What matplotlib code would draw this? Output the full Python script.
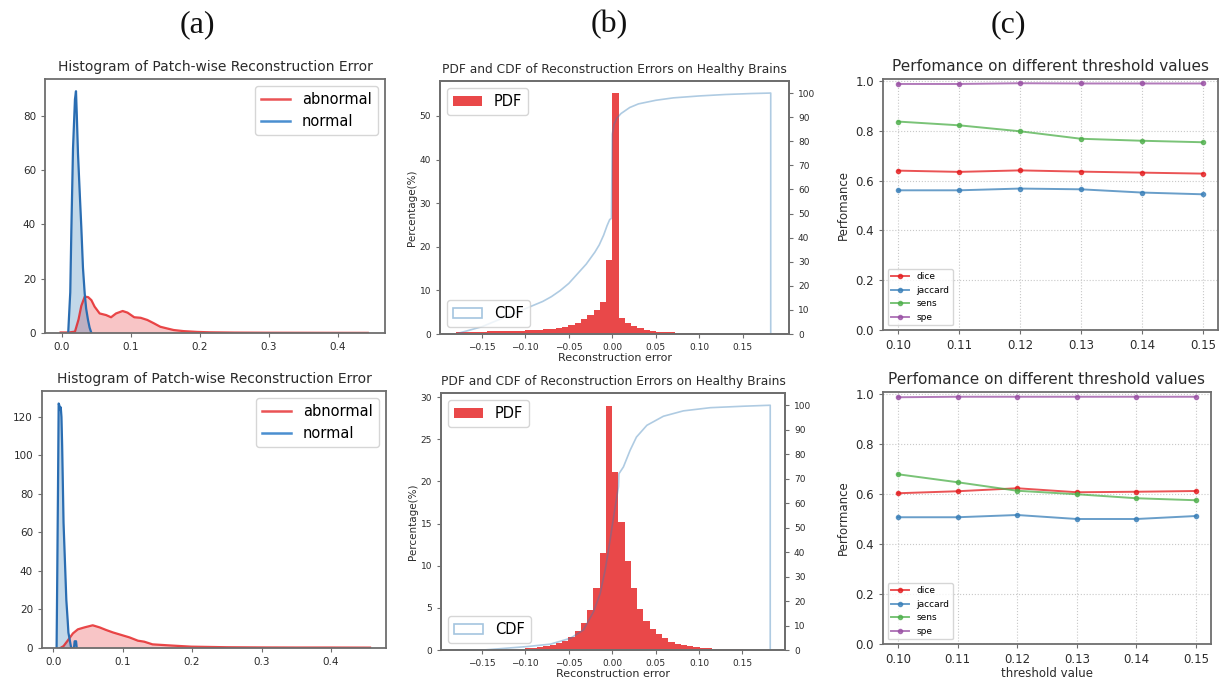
import numpy as np
import matplotlib
matplotlib.use("Agg")
import matplotlib.pyplot as plt
from matplotlib.patches import Patch
from matplotlib.lines import Line2D

# ---- (a) patch-wise reconstruction error histograms (density) ----
a1_err_normal = [0.009, 0.012, 0.0136, 0.016, 0.0188, 0.0203, 0.0215, 0.0232, 0.026,
                 0.028, 0.0304, 0.0329, 0.035, 0.0377, 0.040, 0.0426]
a1_dens_normal = [0, 15, 38, 68, 86, 89, 80, 66, 50, 39, 24, 14.6, 9, 4.8, 2, 0]
a1_err_abnormal = [-0.002, 0.01, 0.0188, 0.024, 0.028, 0.033, 0.038, 0.0426, 0.0473,
                   0.0546, 0.064, 0.0711, 0.0783, 0.0879, 0.095, 0.1047, 0.114, 0.1237,
                   0.133, 0.1425, 0.152, 0.1618, 0.176, 0.196, 0.215, 0.25, 0.3, 0.35,
                   0.4, 0.443]
a1_dens_abnormal = [0.2, 0.2, 0.5, 5, 10, 13.4, 13.2, 12.1, 9.7, 7.2, 6.6, 5.8, 7.2, 8.1,
                    7.5, 5.8, 5.6, 4.8, 3.6, 2.3, 1.7, 1.1, 0.7, 0.4, 0.25, 0.15, 0.1,
                    0.08, 0.06, 0.05]

a2_err_normal = [0.005, 0.006, 0.007, 0.008, 0.009, 0.010, 0.011, 0.012, 0.013, 0.014,
                 0.015, 0.017, 0.018, 0.019, 0.021, 0.022, 0.024, 0.026, 0.030, 0.031,
                 0.033, 0.034]
a2_dens_normal = [0, 40, 82, 127, 126, 124, 125, 120, 105, 85, 65, 45, 35, 25, 14, 8, 4,
                  0, 0, 3.5, 3.5, 0]
a2_err_abnormal = [0.0105, 0.015, 0.0213, 0.0285, 0.0356, 0.045, 0.057, 0.067, 0.076,
                   0.086, 0.098, 0.110, 0.122, 0.131, 0.143, 0.165, 0.184, 0.199, 0.25,
                   0.3, 0.35, 0.4, 0.456]
a2_dens_abnormal = [0, 1, 4, 7.6, 9.7, 10.7, 11.8, 10.7, 9.4, 8.1, 6.8, 5.5, 3.8, 3.3,
                    1.9, 1.4, 1.0, 0.7, 0.4, 0.3, 0.25, 0.25, 0.2]

# ---- (b) PDF (percentage per bin, 50 bins on [-0.18, 0.18]) and CDF ----
b1_pdf = [0.4, 0.45, 0.5, 0.5, 0.55, 0.6, 0.6, 0.65, 0.7, 0.75, 0.8, 0.9, 0.95, 1.0,
          1.1, 1.2, 1.4, 1.7, 2.1, 2.6, 3.4, 4.4, 5.5, 7.3, 17.0, 55.3, 3.6, 2.6, 1.8,
          1.3, 0.9, 0.7, 0.55, 0.45, 0.35, 0.3, 0.25, 0.2, 0.18, 0.15, 0.13, 0.12, 0.1,
          0.1, 0.08, 0.07, 0.06, 0.05, 0.05, 0.04]
b1_cdf_x = [-0.18, -0.17, -0.16, -0.15, -0.14, -0.13, -0.12, -0.11, -0.10, -0.09, -0.08,
            -0.07, -0.06, -0.05, -0.04, -0.03, -0.02, -0.015, -0.01, -0.006, -0.003,
            -0.001, 0.0, 0.002, 0.005, 0.01, 0.02, 0.03, 0.05, 0.07, 0.10, 0.13, 0.16,
            0.182]
b1_cdf_y = [0, 1, 2, 3, 4.5, 6, 7.5, 9, 10.5, 12, 13.5, 15.5, 18, 21, 25, 29, 34, 37,
            41, 45, 47.5, 48, 83, 87, 89.5, 91.5, 94, 95.5, 97, 98, 98.8, 99.4, 99.8, 100]

b2_pdf = [0.01, 0.02, 0.02, 0.03, 0.04, 0.05, 0.06, 0.08, 0.1, 0.12, 0.15, 0.2, 0.27,
          0.35, 0.45, 0.6, 0.8, 1.1, 1.6, 2.3, 3.2, 4.8, 7.4, 11.5, 29.0, 21.1, 15.2,
          10.6, 7.3, 4.9, 3.5, 2.5, 1.9, 1.4, 1.0, 0.75, 0.55, 0.42, 0.32, 0.25, 0.2,
          0.15, 0.12, 0.1, 0.08, 0.06, 0.04, 0.03, 0.02, 0.02]
b2_cdf_x = [-0.18, -0.148, -0.098, -0.071, -0.048, -0.033, -0.0215, -0.0138, -0.008,
            -0.0023, 0.0023, 0.0073, 0.0078, 0.013, 0.0207, 0.028, 0.04, 0.059, 0.082,
            0.113, 0.151, 0.182]
b2_cdf_y = [0, 0, 1.4, 2.4, 4.8, 8.2, 15.6, 23, 32.7, 45, 55.8, 66.7, 72, 74.8, 81.6, 87,
            91.8, 95.5, 97.7, 99, 99.6, 100]

# ---- (c) performance vs threshold ----
thresholds = [0.10, 0.11, 0.12, 0.13, 0.14, 0.15]
c1_dice = [0.640, 0.635, 0.641, 0.636, 0.632, 0.628]
c1_jaccard = [0.561, 0.561, 0.568, 0.565, 0.552, 0.545]
c1_sens = [0.837, 0.822, 0.798, 0.768, 0.760, 0.754]
c1_spe = [0.988, 0.988, 0.991, 0.990, 0.990, 0.990]
c2_dice = [0.603, 0.611, 0.623, 0.607, 0.609, 0.612]
c2_jaccard = [0.507, 0.507, 0.516, 0.500, 0.500, 0.512]
c2_sens = [0.679, 0.647, 0.613, 0.599, 0.583, 0.575]
c2_spe = [0.987, 0.989, 0.989, 0.989, 0.989, 0.989]

RED = "#e41a1c"
BLUE = "#377eb8"
GREEN = "#4daf4a"
PURPLE = "#984ea3"
SPINE = "#6e6e6e"
TXT = "#2b2b2b"

W, H = 1227, 684
fig = plt.figure(figsize=(W / 100, H / 100), dpi=100)


def px_axes(x0, y0, x1, y1):
    """Axes from pixel box (top-left origin)."""
    return fig.add_axes([x0 / W, 1 - y1 / H, (x1 - x0) / W, (y1 - y0) / H])


def style(ax, size):
    for s in ax.spines.values():
        s.set_color(SPINE)
        s.set_linewidth(1.3)
    ax.tick_params(labelsize=size, colors=TXT, length=3, width=0.8)
    ax.tick_params(color=SPINE)


def panel_a(ax, xn, yn, xa, ya, xlim, ylim, yticks):
    ax.plot(xa, ya, color=RED, lw=1.6, alpha=0.8, label="abnormal")
    ax.fill_between(xa, ya, color=RED, alpha=0.25, lw=0)
    ax.plot(xn, yn, color="#2a6db2", lw=1.6)
    ax.fill_between(xn, yn, color=BLUE, alpha=0.3, lw=0)
    ax.set_xlim(*xlim)
    ax.set_ylim(*ylim)
    ax.set_xticks([0.0, 0.1, 0.2, 0.3, 0.4])
    ax.set_yticks(yticks)
    ax.set_title("Histogram of Patch-wise Reconstruction Error", fontsize=10, color=TXT)
    handles = [Line2D([], [], color=RED, alpha=0.75, lw=1.8),
               Line2D([], [], color="#4a8fd0", lw=1.8)]
    ax.legend(handles, ["abnormal", "normal"], loc="upper right", fontsize=10.5)
    style(ax, 7.5)


def panel_b(ax, pdf, cx, cy, xlim, ylim, yticks):
    edges = np.linspace(-0.18, 0.18, len(pdf) + 1)
    ax.stairs(pdf, edges, fill=True, color=RED, alpha=0.8, label="PDF")
    ax.set_xlim(*xlim)
    ax.set_ylim(*ylim)
    ax.set_yticks(yticks)
    ax.set_xticks([-0.15, -0.10, -0.05, 0.0, 0.05, 0.10, 0.15])
    ax.set_xlabel("Reconstruction error", fontsize=8, color=TXT, labelpad=1)
    ax.set_ylabel("Percentage(%)", fontsize=7.5, color=TXT, labelpad=2)
    ax.set_title("PDF and CDF of Reconstruction Errors on Healthy Brains", fontsize=8.8,
                 color=TXT)
    ax.legend(loc="upper left", fontsize=10.5)
    style(ax, 6.5)
    ax2 = ax.twinx()
    ax2.plot(list(cx) + [cx[-1]], list(cy) + [0], color=BLUE, alpha=0.4, lw=1.2)
    ax2.set_ylim(0, 105)
    ax2.set_yticks(range(0, 101, 10))
    ax2.legend([Patch(facecolor="none", edgecolor=BLUE, alpha=0.45, lw=1.2)], ["CDF"],
               loc="lower left", fontsize=10.5)
    style(ax2, 6.5)


def panel_c(ax, dice, jac, sens, spe, ylabel, xlabel=None):
    for vals, col, name in [(dice, RED, "dice"), (jac, BLUE, "jaccard"),
                            (sens, GREEN, "sens"), (spe, PURPLE, "spe")]:
        ax.plot(thresholds, vals, color=col, marker=".", ms=6, lw=1.4, alpha=0.75,
                label=name)
    ax.set_ylim(0, 1.008)
    ax.set_xticks(thresholds)
    ax.set_xticklabels(["%.2f" % t for t in thresholds])
    ax.set_yticks([0.0, 0.2, 0.4, 0.6, 0.8, 1.0])
    ax.grid(True, ls=":", color="#c8c8c8", lw=0.8)
    ax.set_title("Perfomance on different threshold values", fontsize=11, color=TXT)
    ax.set_ylabel(ylabel, fontsize=8.5, color=TXT)
    if xlabel:
        ax.set_xlabel(xlabel, fontsize=8.5, color=TXT, labelpad=1)
    ax.legend(loc="lower left", fontsize=6.5)
    style(ax, 8.5)


ax = px_axes(45, 79, 385, 333)
panel_a(ax, a1_err_normal, a1_dens_normal, a1_err_abnormal, a1_dens_abnormal,
        (-0.0246, 0.468), (0, 93.5), [0, 20, 40, 60, 80])
ax = px_axes(42, 391, 386, 648)
panel_a(ax, a2_err_normal, a2_dens_normal, a2_err_abnormal, a2_dens_abnormal,
        (-0.016, 0.479), (0, 133.5), [0, 20, 40, 60, 80, 100, 120])

ax = px_axes(440, 81, 789, 334)
panel_b(ax, b1_pdf, b1_cdf_x, b1_cdf_y, (-0.198, 0.203), (0, 58), [0, 10, 20, 30, 40, 50])
ax = px_axes(441, 393, 785, 650)
panel_b(ax, b2_pdf, b2_cdf_x, b2_cdf_y, (-0.197, 0.199), (0, 30.5), [0, 5, 10, 15, 20, 25, 30])

ax = px_axes(883, 79, 1218, 330)
panel_c(ax, c1_dice, c1_jaccard, c1_sens, c1_spe, "Perfomance")
ax = px_axes(883, 392, 1211, 644)
panel_c(ax, c2_dice, c2_jaccard, c2_sens, c2_spe, "Performance", "threshold value")

for lab, xp in [("(a)", 197), ("(b)", 609), ("(c)", 1008)]:
    fig.text(xp / W, 1 - 25 / H, lab, ha="center", va="center", fontsize=23,
             family="Liberation Serif", color="#111111")

fig.savefig("out.png", dpi=100)
